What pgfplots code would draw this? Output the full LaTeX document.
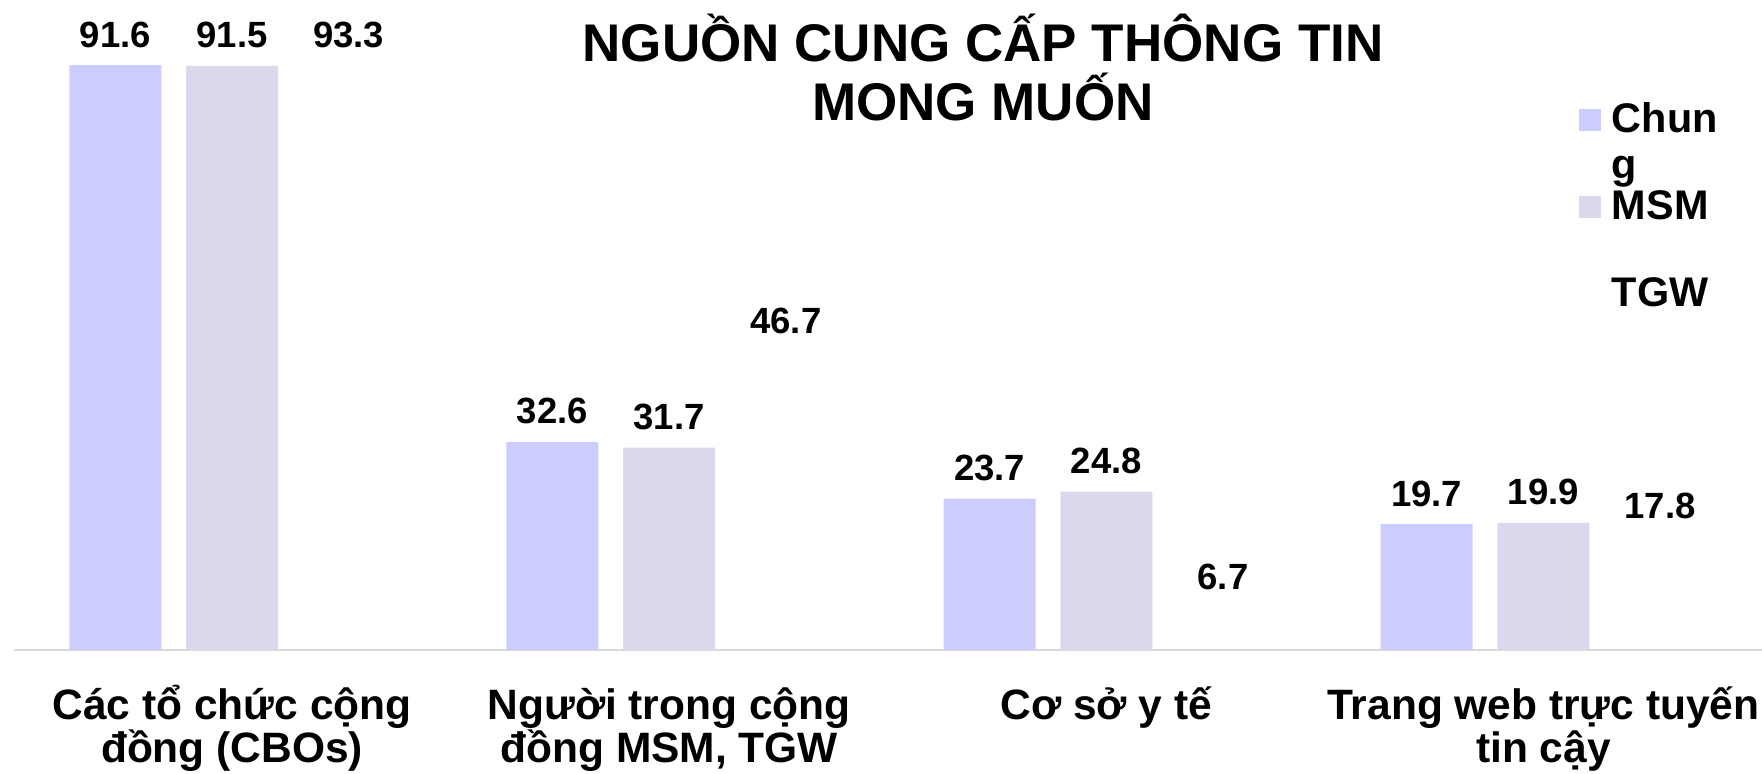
\documentclass[border=0pt]{standalone}
\usepackage{fontspec}
\setmainfont{Liberation Sans}
\usepackage{pgfplots}
\pgfplotsset{compat=1.18}
\definecolor{chung}{RGB}{204,204,255}
\definecolor{msm}{RGB}{218,216,236}
\definecolor{axisgray}{RGB}{217,217,217}
\newcommand{\catfont}{\fontsize{21.25}{21.5}\selectfont\bfseries\lineskiplimit=-30pt\relax}
\pgfplotsset{sqlegend/.style={legend image code/.code={\fill[##1] (0pt,-5.8pt) rectangle (11pt,5.2pt);}},
  sqlegendnone/.style={legend image code/.code={\path (0pt,-5.8pt) rectangle (11pt,5.2pt);}}}
\begin{document}
\begin{tikzpicture}
\path[use as bounding box] (0,0) rectangle (881pt,387pt);
\begin{axis}[
  at={(6.75pt,62pt)}, anchor=south west,
  scale only axis, width=874.25pt, height=325pt,
  xmin=-0.5, xmax=3.5, ymin=0, ymax=101.8,
  ybar, bar width=0.2105,
  clip=false,
  hide y axis,
  axis x line*=bottom,
  x axis line style={-, draw=axisgray, line width=1.2pt},
  major tick length=0pt,
  xtick={0,1,2,3},
  xticklabels={{\rule{0pt}{21pt}Các tổ chức cộng\\đồng (CBOs)},{\rule{0pt}{21pt}Người trong cộng\\đồng MSM, TGW},{\rule{0pt}{21pt}Cơ sở y tế},{\rule{0pt}{21pt}Trang web trực tuyến\\tin cậy}},
  xticklabel style={font=\catfont, align=center, anchor=north, inner sep=0pt, yshift=-13.5pt},
  nodes near coords={\pgfmathprintnumber[fixed,fixed zerofill,precision=1,assume math mode=true]{\pgfplotspointmeta}},
  nodes near coords style={font=\fontsize{18.25}{20}\selectfont\bfseries, anchor=base, inner sep=0pt, yshift=9pt},
  legend style={at={(0.8953,0.8492)}, anchor=north west, draw=none, fill=none, inner sep=0pt, row sep=23pt,
    font=\fontsize{20.7}{23}\selectfont\bfseries,
    cells={anchor=west, inner sep=0pt},
    /tikz/every odd column/.append style={column sep=3.3pt}},
]
\addplot[fill=chung, draw=none, bar shift=-0.267, sqlegend] coordinates {(0,91.6) (1,32.6) (2,23.7) (3,19.7)};
\addlegendentry{\smash{\begin{tabular}[t]{@{}l@{}}Chun\\g\end{tabular}}\rule[-5pt]{0pt}{20pt}}
\addplot[fill=msm, draw=none, bar shift=0, sqlegend] coordinates {(0,91.5) (1,31.7) (2,24.8) (3,19.9)};
\addlegendentry{\rule[-5pt]{0pt}{20pt}MSM}
\addplot[fill=none, draw=none, bar shift=0.267, sqlegendnone,
  visualization depends on={\thisrow{dy}\as\dy},
  nodes near coords style={yshift=\dy pt}] table[row sep=\\] {
x y dy\\
0 93.3 -5.4\\
1 46.7 0\\
2 6.7 0\\
3 17.8 0\\
};
\addlegendentry{\rule[-5pt]{0pt}{20pt}TGW}
\end{axis}
\node[font=\fontsize{26.5}{30}\selectfont\bfseries, anchor=base] at (491.5pt,356pt) {NGUỒN CUNG CẤP THÔNG TIN};
\node[font=\fontsize{26.5}{30}\selectfont\bfseries, anchor=base] at (491.5pt,326.5pt) {MONG MUỐN};
\end{tikzpicture}
\end{document}
